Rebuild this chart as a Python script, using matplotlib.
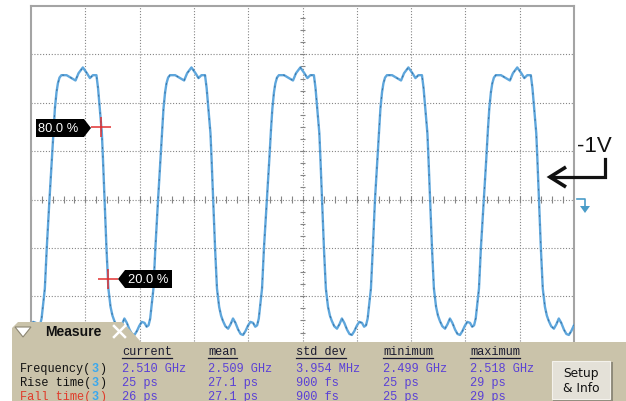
import matplotlib
matplotlib.use("Agg")
import numpy as np
import matplotlib.pyplot as plt
from matplotlib.patches import Polygon, Rectangle

# one period of the trace
# time in ps from the rising-edge centre crossing, level in divisions
period_t = [0, 9, 15, 20, 26, 31, 37, 44, 63, 81, 96, 107, 123, 138, 149, 160,
            173, 179, 186, 193, 197, 203, 210, 217, 225, 232, 239, 248, 258,
            267, 276, 285, 295, 304, 313, 322, 331, 340, 350, 358, 365, 371,
            376, 383, 390]
period_v = [0, 0.85, 1.45, 1.88, 2.22, 2.40, 2.52, 2.57, 2.57, 2.51, 2.46,
            2.61, 2.73, 2.61, 2.51, 2.57, 2.57, 2.30, 1.84, 1.37, 0.85, 0,
            -1.01, -1.84, -2.22, -2.40, -2.51, -2.62, -2.67, -2.58, -2.46,
            -2.55, -2.69, -2.78, -2.80, -2.72, -2.61, -2.53, -2.55, -2.63,
            -2.60, -2.46, -2.20, -1.84, -1.01]
rise_starts = [-332, 68, 468, 869, 1267, 1668]

# 80 % / 20 % reference crosses (ps, div)
marker_t = [258, 284]
marker_v = [1.49, -1.64]
marker_labels = ["80.0 %", "20.0 %"]

# measurement table
headers = ["current", "mean", "std dev", "minimum", "maximum"]
row_names = ["Frequency", "Rise time", "Fall time"]
freq_vals = ["2.510 GHz", "2.509 GHz", "3.954 MHz", "2.499 GHz", "2.518 GHz"]
rise_vals = ["25 ps", "27.1 ps", "900 fs", "25 ps", "29 ps"]
fall_vals = ["26 ps", "27.1 ps", "900 fs", "25 ps", "29 ps"]

W, H = 626, 402
fig = plt.figure(figsize=(W / 100, H / 100), dpi=100)
fig.patch.set_facecolor("white")

# --- scope screen ---
ax = fig.add_axes([31 / W, 8 / H, 543 / W, 387 / H])
ax.set_xlim(0, 2000)
ax.set_ylim(-4, 4)
ax.set_xticks([])
ax.set_yticks([])
for s in ax.spines.values():
    s.set_color("#a4a4a4")
    s.set_linewidth(1.5)

grid_kw = dict(color="#858585", lw=0.8, ls=(0, (1, 1.6)), zorder=1)
for i in range(1, 10):
    ax.axvline(i * 200, **grid_kw)
for j in range(-3, 4):
    ax.axhline(j, **grid_kw)

ax.vlines(np.arange(0, 2001, 40), -0.065, 0.065, color="#858585", lw=0.8, zorder=1)
ax.hlines(np.arange(-4, 4.01, 0.25), 989, 1011, color="#858585", lw=0.8, zorder=1)

# whole trace as one line
trace_t, trace_v = [], []
for t0 in rise_starts:
    trace_t += [t0 + t for t in period_t]
    trace_v += period_v
ax.plot(trace_t, trace_v, color="#5ea6dc", lw=1.7, zorder=3,
        solid_joinstyle="round")
ax.plot(trace_t, trace_v, color="#2c5f8c", lw=0.7, ls=(0, (2, 7)),
        alpha=0.75, zorder=4)

ax.plot(marker_t, marker_v, ls="none", marker="+", ms=14, mew=1.1,
        color="#e23232", zorder=5)

# --- overlay in screen pixels ---
ov = fig.add_axes([0, 0, 1, 1], zorder=10)
ov.set_xlim(0, W)
ov.set_ylim(H, 0)
ov.axis("off")
ov.patch.set_alpha(0)

# level flags
ov.add_patch(Polygon([(36, 120), (84, 120), (91, 129), (84, 138), (36, 138)],
                     closed=True, fc="black", ec="none"))
ov.text(38, 129.5, marker_labels[0], color="white", fontsize=9.3,
        family="Liberation Sans", va="center", ha="left")
ov.add_patch(Polygon([(118, 280), (125, 271), (172, 271), (172, 289), (125, 289)],
                     closed=True, fc="black", ec="none"))
ov.text(128, 280.5, marker_labels[1], color="white", fontsize=9.3,
        family="Liberation Sans", va="center", ha="left")

# -1V callout
ov.text(577, 147, "-1V", fontsize=16, family="Liberation Sans",
        va="center", ha="left", color="#111111")
ov.plot([551, 605, 605], [178, 178, 160], color="#111111", lw=2.3,
        solid_joinstyle="miter")
ov.plot([566, 550, 566], [168, 178, 188], color="#111111", lw=2.6,
        solid_joinstyle="miter", solid_capstyle="butt")

# trigger level marker
ov.plot([577, 585, 585], [200, 200, 208], color="#4a9cc8", lw=1.2)
ov.add_patch(Polygon([(580, 207), (590, 207), (585, 214)], closed=True,
                     fc="#4a9cc8", ec="none"))

# measure panel
panel_c = "#cac3aa"
ov.add_patch(Polygon([(12, 343), (12, 329), (18, 323), (122, 323), (133, 334),
                      (141, 343)], closed=True, fc=panel_c, ec="none"))
ov.add_patch(Rectangle((12, 343), W - 12, H - 343, fc=panel_c, ec="none"))
ov.add_patch(Polygon([(15, 328), (31, 328), (23, 338)], closed=True,
                     fc="white", ec="#8c8672", lw=0.8))
ov.text(45, 332, "Measure", fontsize=10, fontweight="bold",
        family="Liberation Sans", va="center", ha="left", color="#111111")
ov.plot([114, 125], [327, 338], color="white", lw=1.8)
ov.plot([114, 125], [338, 327], color="white", lw=1.8)

mono = "Liberation Mono"
fs = 8.6
cw = 0.6 * fs * 100 / 72
col_x = [122, 208, 296, 383, 470]
row_y = [369, 383, 397]
name_colors = ["#111111", "#111111", "#e03a2a"]

for x, h in zip(col_x, headers):
    ov.text(x, 352, h, fontsize=fs, family=mono, va="center", ha="left",
            color="#1a1a30")
    ov.plot([x, x + len(h) * cw], [358.5, 358.5], color="#1a1a30", lw=0.9)

for y, name, c, vals in zip(row_y, row_names, name_colors,
                            [freq_vals, rise_vals, fall_vals]):
    ov.text(20, y, name + "(", fontsize=fs, family=mono, va="center",
            ha="left", color=c)
    ov.text(20 + (len(name) + 1) * cw, y, "3", fontsize=fs, family=mono,
            va="center", ha="left", color="#3aa8ee", fontweight="bold")
    ov.text(20 + (len(name) + 2) * cw, y, ")", fontsize=fs, family=mono,
            va="center", ha="left", color=c)
    for x, v in zip(col_x, vals):
        ov.text(x, y, v, fontsize=fs, family=mono, va="center", ha="left",
                color="#5a40d6")

# setup button
ov.add_patch(Rectangle((553, 363), 60, 40, fc="#8e8a7a", ec="none"))
ov.add_patch(Rectangle((552, 362), 58, 38, fc="#e4e1d8", ec="#f4f2ec", lw=0.8))
ov.text(581, 374, "Setup", fontsize=8.8, family="DejaVu Sans", va="center",
        ha="center", color="#111111")
ov.text(581, 389, "& Info", fontsize=8.8, family="DejaVu Sans", va="center",
        ha="center", color="#111111")

fig.savefig("out.png", dpi=100)
